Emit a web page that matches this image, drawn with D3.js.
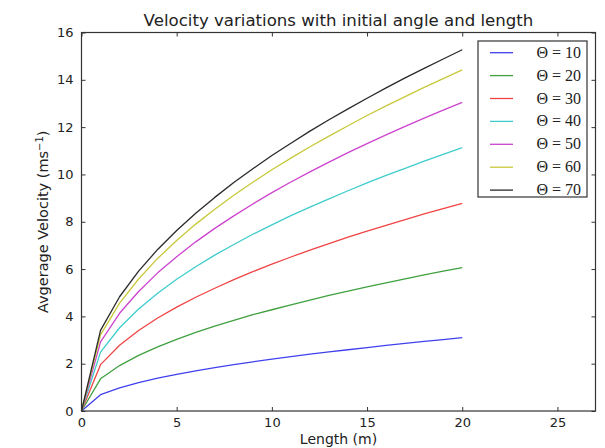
<!DOCTYPE html>
<html>
<head>
<meta charset="utf-8">
<script src="https://cdn.jsdelivr.net/npm/d3@7/dist/d3.min.js"></script>
<style>
  html, body { margin: 0; padding: 0; background: #fff; }
  svg { display: block; }
</style>
</head>
<body>
<svg id="chart" width="605" height="448"></svg>
<script>
const lengths = [0,1,2,3,4,5,6,7,8,9,10,11,12,13,14,15,16,17,18,19,20];
const angles = [10, 20, 30, 40, 50, 60, 70];
const theta10 = [0,0.69,0.98,1.20,1.39,1.55,1.70,1.83,1.96,2.08,2.19,2.30,2.40,2.50,2.59,2.68,2.77,2.86,2.94,3.02,3.10];
const theta20 = [0,1.36,1.92,2.35,2.71,3.03,3.32,3.59,3.83,4.07,4.28,4.49,4.69,4.89,5.07,5.25,5.42,5.59,5.75,5.91,6.06];
const theta30 = [0,1.96,2.78,3.40,3.93,4.39,4.81,5.19,5.55,5.89,6.21,6.51,6.80,7.08,7.35,7.60,7.85,8.09,8.33,8.56,8.78];
const theta40 = [0,2.49,3.52,4.31,4.98,5.57,6.10,6.59,7.04,7.47,7.87,8.26,8.62,8.97,9.31,9.64,9.96,10.26,10.56,10.85,11.13];
const theta50 = [0,2.92,4.13,5.05,5.84,6.52,7.15,7.72,8.25,8.75,9.23,9.68,10.11,10.52,10.92,11.30,11.67,12.03,12.38,12.72,13.05];
const theta60 = [0,3.22,4.56,5.58,6.45,7.21,7.90,8.53,9.12,9.67,10.20,10.69,11.17,11.62,12.06,12.49,12.90,13.29,13.68,14.05,14.42];
const theta70 = [0,3.41,4.83,5.91,6.83,7.63,8.36,9.03,9.66,10.24,10.80,11.32,11.83,12.31,12.77,13.22,13.66,14.08,14.48,14.88,15.27];
const seriesValues = [theta10, theta20, theta30, theta40, theta50, theta60, theta70];
const colors = ["#4040ee", "#40a040", "#f04444", "#40cccc", "#cc44cc", "#c8c83a", "#2a2a2a"];
const xTicks = [0, 5, 10, 15, 20, 25];
const yTicks = [0, 2, 4, 6, 8, 10, 12, 14, 16];

const svg = d3.select("#chart");
const L = 81.5, R = 595.5, T = 32.5, B = 411;
const x = d3.scaleLinear().domain([0, 27]).range([L, R]);
const y = d3.scaleLinear().domain([0, 16]).range([B, T]);

const tickFont = "DejaVu Sans, sans-serif";

const line = d3.line().x((d, i) => x(lengths[i])).y(d => y(d));
seriesValues.forEach((vals, k) => {
  svg.append("path")
    .datum(vals)
    .attr("d", line)
    .attr("fill", "none")
    .attr("stroke", colors[k])
    .attr("stroke-width", 1.3)
    .attr("stroke-linejoin", "round");
});

const ax = svg.append("g");
ax.append("g").attr("transform", `translate(0,${B})`)
  .call(d3.axisBottom(x).tickValues(xTicks).tickSizeInner(-4).tickSizeOuter(0).tickPadding(7))
  .call(g => g.select(".domain").remove());
ax.append("g").attr("transform", `translate(0,${T})`)
  .call(d3.axisTop(x).tickValues(xTicks).tickSizeInner(-4).tickSizeOuter(0).tickFormat(""))
  .call(g => g.select(".domain").remove());
ax.append("g").attr("transform", `translate(${L},0)`)
  .call(d3.axisLeft(y).tickValues(yTicks).tickSizeInner(-4).tickSizeOuter(0).tickPadding(8))
  .call(g => g.select(".domain").remove());
ax.append("g").attr("transform", `translate(${R},0)`)
  .call(d3.axisRight(y).tickValues(yTicks).tickSizeInner(-4).tickSizeOuter(0).tickFormat(""))
  .call(g => g.select(".domain").remove());
ax.selectAll(".tick line").attr("stroke", "#333").attr("stroke-width", 1);
ax.selectAll(".tick text").attr("font-family", tickFont).attr("font-size", 13).attr("fill", "#222");

svg.append("rect")
  .attr("x", L).attr("y", T).attr("width", R - L).attr("height", B - T)
  .attr("fill", "none").attr("stroke", "#333").attr("stroke-width", 1.2);

svg.append("text").attr("x", (L + R) / 2).attr("y", 26)
  .attr("text-anchor", "middle").attr("font-family", tickFont).attr("font-size", 16.6)
  .attr("fill", "#222").text("Velocity variations with initial angle and length");
svg.append("text").attr("x", (L + R) / 2).attr("y", 444)
  .attr("text-anchor", "middle").attr("font-family", tickFont).attr("font-size", 14)
  .attr("fill", "#222").text("Length (m)");
const yl = svg.append("text")
  .attr("transform", `translate(48,${(T + B) / 2}) rotate(-90)`)
  .attr("text-anchor", "middle").attr("font-family", tickFont).attr("font-size", 14.5)
  .attr("fill", "#222");
yl.append("tspan").text("Avgerage Velocity (ms");
yl.append("tspan").attr("font-size", 10).attr("dy", -5).text("−1");
yl.append("tspan").attr("dy", 5).text(")");

const lg = svg.append("g");
lg.append("rect").attr("x", 478).attr("y", 41).attr("width", 109).attr("height", 156)
  .attr("fill", "#fff").attr("stroke", "#333").attr("stroke-width", 1.2);
angles.forEach((a, k) => {
  const yy = 52.7 + k * 22.9;
  lg.append("line").attr("x1", 490).attr("x2", 513).attr("y1", yy).attr("y2", yy)
    .attr("stroke", colors[k]).attr("stroke-width", 1.3);
  lg.append("text").attr("x", 581).attr("y", yy + 5).attr("text-anchor", "end")
    .attr("font-family", "Liberation Serif, DejaVu Serif, serif").attr("font-size", 16)
    .attr("fill", "#222").text("Θ = " + a);
});
</script>
</body>
</html>
